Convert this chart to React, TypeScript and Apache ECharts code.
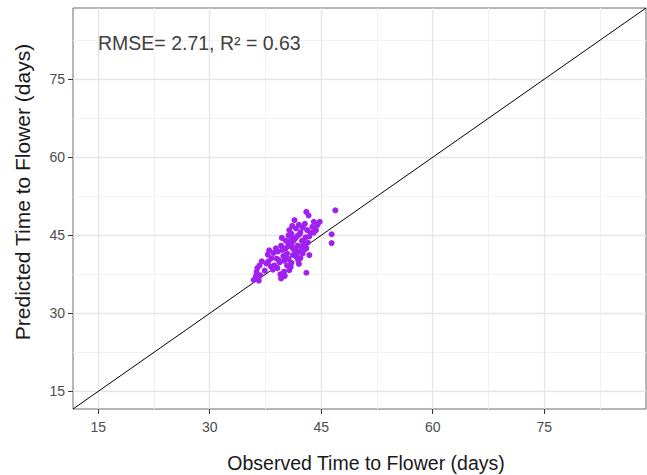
import React, { useEffect, useRef } from "react";
import * as echarts from "echarts";

const observed = [
  36.2, 36.8, 36.3, 36.4, 36.7, 37.0, 37.4, 37.8, 38.0, 38.3, 38.6, 38.7, 38.2, 39.1, 39.0, 39.2,
  39.4, 39.5, 39.6, 39.6, 39.9, 40.0, 40.0, 40.1, 40.2, 40.2, 40.4, 40.4, 40.6, 40.6, 40.6, 40.7,
  40.7, 40.8, 40.9, 41.0, 41.0, 41.0, 41.2, 41.2, 41.4, 41.5, 41.6, 41.6, 41.7, 41.8, 41.9, 42.0,
  42.0, 42.1, 42.2, 42.2, 42.3, 42.5, 42.5, 42.5, 42.8, 42.8, 42.9, 43.0, 43.0, 43.1, 43.2, 43.3,
  43.4, 43.4, 43.6, 43.8, 44.0, 44.3, 44.5, 46.4, 46.4, 46.9, 41.3, 39.8, 38.9, 37.6, 42.7, 41.5,
  40.3, 39.3, 42.0, 43.0, 44.0, 44.8, 41.1, 40.5, 35.9, 36.6, 37.9, 38.5, 39.7, 40.9, 41.8, 42.4,
];
const predicted = [
  37.1, 37.3, 37.9, 38.7, 39.2, 40.0, 38.2, 41.3, 42.1, 40.6, 41.6, 39.2, 39.0, 38.7, 40.5, 41.9,
  39.8, 37.5, 36.7, 43.0, 41.0, 40.1, 38.0, 37.2, 42.5, 44.0, 41.5, 39.2, 40.4, 42.9, 45.0, 46.0,
  38.3, 43.8, 38.9, 39.7, 43.3, 45.3, 41.2, 42.4, 47.9, 44.4, 42.1, 46.3, 40.8, 43.0, 40.2, 41.8,
  47.0, 45.2, 40.6, 45.6, 42.8, 41.5, 44.0, 46.5, 43.2, 47.2, 44.6, 49.5, 37.8, 46.0, 43.6, 48.8,
  41.2, 44.8, 45.5, 46.6, 47.6, 46.0, 47.0, 45.2, 43.5, 49.8, 44.0, 42.2, 42.5, 39.6, 42.2, 41.5,
  40.8, 40.2, 39.5, 42.5, 45.5, 47.6, 46.8, 43.6, 36.4, 36.3, 40.0, 38.4, 44.5, 44.7, 44.9, 43.9,
];
const tickValues = [15, 30, 45, 60, 75];
const minorValues = [22.5, 37.5, 52.5, 67.5, 82.5];
const axisMin = 11.6;
const axisMax = 88.7;
const annotation = "RMSE= 2.71, R² = 0.63";
const xTitle = "Observed Time to Flower (days)";
const yTitle = "Predicted Time to Flower (days)";

export default function App() {
  const ref = useRef<HTMLDivElement>(null);
  useEffect(() => {
    if (!ref.current) return;
    const chart = echarts.init(ref.current, null, { renderer: "svg" });
    const labelFont = "'Liberation Sans Narrow', 'Arial Narrow', 'Liberation Sans', Arial, sans-serif";
    const titleFont = "'Liberation Sans', Arial, sans-serif";
    const gridMarks: any[] = [];
    minorValues.forEach((v) => {
      gridMarks.push({ xAxis: v, lineStyle: { color: "#f2f2f2", width: 1, type: "solid" } });
      gridMarks.push({ yAxis: v, lineStyle: { color: "#f2f2f2", width: 1, type: "solid" } });
    });
    tickValues.forEach((v) => {
      gridMarks.push({ xAxis: v, lineStyle: { color: "#e5e5e5", width: 1.3, type: "solid" } });
      gridMarks.push({ yAxis: v, lineStyle: { color: "#e5e5e5", width: 1.3, type: "solid" } });
    });
    const axisCommon = {
      type: "value" as const,
      min: axisMin,
      max: axisMax,
      splitLine: { show: false },
      axisLine: { show: false },
      axisTick: {
        show: true,
        customValues: tickValues,
        length: 5,
        lineStyle: { color: "#333", width: 1 },
      },
      axisLabel: {
        customValues: tickValues,
        color: "#4d4d4d",
        fontSize: 14,
        fontFamily: labelFont,
      },
    };
    chart.setOption({
      animation: false,
      backgroundColor: "#ffffff",
      grid: {
        left: 73,
        top: 8,
        width: 573,
        height: 401,
        show: true,
        borderColor: "#6e6e6e",
        borderWidth: 1,
        backgroundColor: "transparent",
        outerBoundsMode: "none",
        containLabel: false,
      },
      xAxis: { ...axisCommon, axisLabel: { ...axisCommon.axisLabel, margin: 11 } },
      yAxis: { ...axisCommon, axisLabel: { ...axisCommon.axisLabel, margin: 8 } },
      series: [
        {
          type: "line",
          data: [
            [axisMin, axisMin],
            [axisMax, axisMax],
          ],
          symbol: "none",
          silent: true,
          z: 1,
          lineStyle: { color: "#000", width: 1 },
          markLine: {
            silent: true,
            symbol: "none",
            label: { show: false },
            animation: false,
            data: gridMarks,
            z: 0,
          },
        },
        {
          type: "scatter",
          data: observed.map((x, i) => [x, predicted[i]]),
          symbol: "circle",
          symbolSize: 6,
          itemStyle: { color: "#A020F0", opacity: 1 },
          z: 3,
        },
      ],
      graphic: [
        {
          type: "text",
          left: 98,
          top: 33,
          z: 100,
          style: {
            text: annotation,
            fill: "#404040",
            fontSize: 19.5,
            fontFamily: titleFont,
          },
        },
        {
          type: "text",
          x: 366,
          y: 463,
          z: 100,
          style: {
            text: xTitle,
            fill: "#1a1a1a",
            fontSize: 19.5,
            fontFamily: titleFont,
            align: "center",
            verticalAlign: "middle",
          },
        },
        {
          type: "text",
          x: 22,
          y: 192,
          rotation: Math.PI / 2,
          z: 100,
          style: {
            text: yTitle,
            fill: "#1a1a1a",
            fontSize: 21,
            fontFamily: titleFont,
            align: "center",
            verticalAlign: "middle",
          },
        },
      ],
    });
    return () => chart.dispose();
  }, []);
  return (
    <div
      ref={ref}
      style={{ position: "fixed", left: 0, top: 0, width: 647, height: 475 }}
    />
  );
}
